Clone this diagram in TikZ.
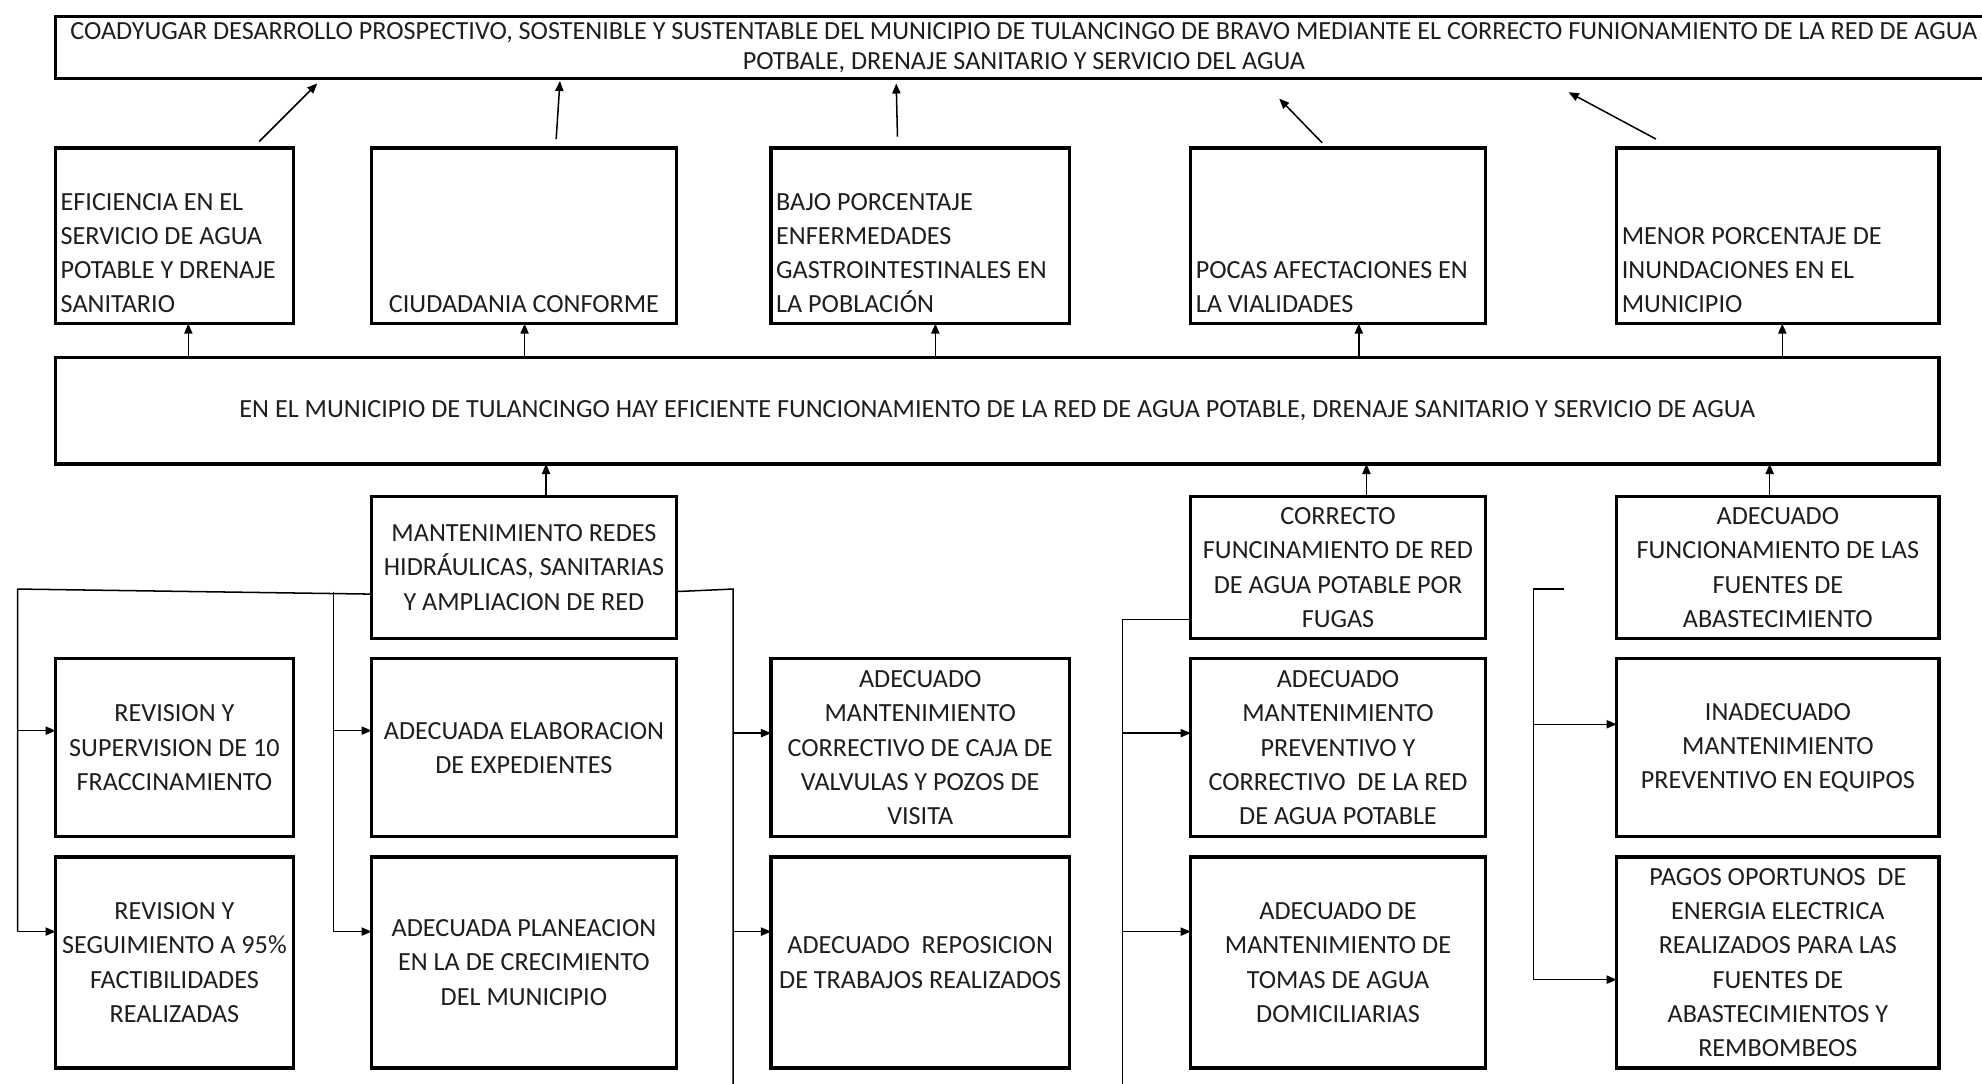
\documentclass[tikz,border=0pt]{standalone}
\usepackage{fontspec}
\setmainfont{Carlito}
\usetikzlibrary{arrows.meta,calc}
\definecolor{txtc}{HTML}{1E1E1E}
\newcommand{\fsz}{\fontsize{20.7}{27}\selectfont}
\tikzset{
  box/.style={draw, line width=2.6pt, inner sep=0pt, outer sep=0pt, align=center, text=txtc, font=\fsz},
  txt/.style={inner sep=0pt, outer sep=0pt, align=left, text=txtc, font=\fsz},
  conn/.style={line width=1.2pt},
  arr/.style={conn, -{Triangle[length=8pt,width=6.5pt]}}
}
\begin{document}
\begin{tikzpicture}[x=1pt,y=-1pt]
\fill[white] (0,0) rectangle (1568,857);
\useasboundingbox (0,0) rectangle (1568,857);

% top goal
\node[box, minimum width=1532, minimum height=49, font=\fontsize{20.7}{24}\selectfont] (top) at (810,37.5) {COADYUGAR DESARROLLO PROSPECTIVO, SOSTENIBLE Y SUSTENTABLE DEL MUNICIPIO DE TULANCINGO DE BRAVO MEDIANTE EL CORRECTO FUNIONAMIENTO DE LA RED DE AGUA\\POTBALE, DRENAJE SANITARIO Y SERVICIO DEL AGUA};

% row 2
\node[box, minimum width=188, minimum height=139] (b1) at (138,186.5) {};
\node[txt, anchor=south west] (b1t) at ([xshift=4pt,yshift=8.6pt]b1.south west) {EFICIENCIA EN EL\\SERVICIO DE AGUA\\POTABLE Y DRENAJE\\SANITARIO};
\node[box, minimum width=241, minimum height=139] (b2) at (414.5,186.5) {};
\node[txt, anchor=south] (b2t) at ([yshift=8.6pt]b2.south) {CIUDADANIA CONFORME};
\node[box, minimum width=236, minimum height=139] (b3) at (728,186.5) {};
\node[txt, anchor=south west] (b3t) at ([xshift=4pt,yshift=8.6pt]b3.south west) {BAJO PORCENTAJE\\ENFERMEDADES\\GASTROINTESTINALES EN\\LA POBLACIÓN};
\node[box, minimum width=233, minimum height=139] (b4) at (1058.5,186.5) {};
\node[txt, anchor=south west] (b4t) at ([xshift=4pt,yshift=8.6pt]b4.south west) {POCAS AFECTACIONES EN\\LA VIALIDADES};
\node[box, minimum width=255, minimum height=139] (b5) at (1406.5,186.5) {};
\node[txt, anchor=south west] (b5t) at ([xshift=4pt,yshift=8.6pt]b5.south west) {MENOR PORCENTAJE DE\\INUNDACIONES EN EL\\MUNICIPIO};

% middle purpose
\node[box, minimum width=1490, minimum height=84] (mid) at (789,325) {EN EL MUNICIPIO DE TULANCINGO HAY EFICIENTE FUNCIONAMIENTO DE LA RED DE AGUA POTABLE, DRENAJE SANITARIO Y SERVICIO DE AGUA};

% row 3
\node[box, minimum width=241, minimum height=112] (m1) at (414.5,449) {MANTENIMIENTO REDES\\HIDRÁULICAS, SANITARIAS\\Y AMPLIACION DE RED};
\node[box, minimum width=233, minimum height=112] (c1) at (1058.5,449) {CORRECTO\\FUNCINAMIENTO DE RED\\DE AGUA POTABLE POR\\FUGAS};
\node[box, minimum width=255, minimum height=112] (a1) at (1406.5,449) {ADECUADO\\FUNCIONAMIENTO DE LAS\\FUENTES DE\\ABASTECIMIENTO};

% row 4
\node[box, minimum width=188, minimum height=141] (r4a) at (138,591.5) {REVISION Y\\SUPERVISION DE 10\\FRACCINAMIENTO};
\node[box, minimum width=241, minimum height=141] (r4b) at (414.5,591.5) {ADECUADA ELABORACION\\DE EXPEDIENTES};
\node[box, minimum width=236, minimum height=141] (r4c) at (728,591.5) {ADECUADO\\MANTENIMIENTO\\CORRECTIVO DE CAJA DE\\VALVULAS Y POZOS DE\\VISITA};
\node[box, minimum width=233, minimum height=141] (r4d) at (1058.5,591.5) {ADECUADO\\MANTENIMIENTO\\PREVENTIVO Y\\CORRECTIVO\ \ DE LA RED\\DE AGUA POTABLE};
\node[box, minimum width=255, minimum height=141] (r4e) at (1406.5,591.5) {INADECUADO\\MANTENIMIENTO\\PREVENTIVO EN EQUIPOS};

% row 5
\node[box, minimum width=188, minimum height=167] (r5a) at (138,761.5) {REVISION Y\\SEGUIMIENTO A 95\%\\FACTIBILIDADES\\REALIZADAS};
\node[box, minimum width=241, minimum height=167] (r5b) at (414.5,761.5) {ADECUADA PLANEACION\\EN LA DE CRECIMIENTO\\DEL MUNICIPIO};
\node[box, minimum width=236, minimum height=167] (r5c) at (728,761.5) {ADECUADO\ \ REPOSICION\\DE TRABAJOS REALIZADOS};
\node[box, minimum width=233, minimum height=167] (r5d) at (1058.5,761.5) {ADECUADO DE\\MANTENIMIENTO DE\\TOMAS DE AGUA\\DOMICILIARIAS};
\node[box, minimum width=255, minimum height=167] (r5e) at (1406.5,761.5) {PAGOS OPORTUNOS\ \ DE\\ENERGIA ELECTRICA\\REALIZADOS PARA LAS\\FUENTES DE\\ABASTECIMIENTOS Y\\REMBOMBEOS};

% arrows row 2 -> top
\draw[arr] ([xshift=67pt,yshift=5pt]b1.north) -- ([xshift=-559pt,yshift=-4pt]top.south);
\draw[arr] ([xshift=25.5pt,yshift=7pt]b2.north) -- ([xshift=-367pt,yshift=-2pt]top.south);
\draw[arr] ([xshift=-18pt,yshift=9pt]b3.north) -- ([xshift=-101pt,yshift=-4pt]top.south);
\draw[arr] ([xshift=-12.5pt,yshift=4pt]b4.north) -- ([xshift=202pt,yshift=-16pt]top.south);
\draw[arr] ([xshift=-96.5pt,yshift=7pt]b5.north) -- ([xshift=431pt,yshift=-11pt]top.south);

% arrows mid -> row 2
\coordinate (u1) at ([xshift=11pt]b1.south);
\coordinate (u2) at ([xshift=0.5pt]b2.south);
\coordinate (u3) at ([xshift=12pt]b3.south);
\coordinate (u4) at ([xshift=16.5pt]b4.south);
\coordinate (u5) at ([xshift=3.5pt]b5.south);
\foreach \u in {u1,u2,u3,u4,u5} \draw[arr] (\u |- mid.north) -- (\u);

% arrows row 3 -> mid
\coordinate (v1) at ([xshift=17.5pt]m1.north);
\coordinate (v2) at ([xshift=22.5pt]c1.north);
\coordinate (v3) at ([xshift=-6.5pt]a1.north);
\foreach \v in {v1,v2,v3} \draw[arr] (\v) -- (\v |- mid.south);

% left tree from m1
\coordinate (j1) at ([yshift=-21pt]m1.west);
\coordinate (lt) at (14,466);
\coordinate (lt2) at (264,468);
\coordinate (p4a) at ([yshift=13.5pt]r4a.west);
\coordinate (p5a) at ([yshift=24.5pt]r5a.west);
\coordinate (p4b) at ([yshift=13.5pt]r4b.west);
\coordinate (p5b) at ([yshift=24.5pt]r5b.west);
\draw[conn] (j1) -- (lt) -- (lt |- p5a);
\draw[arr] (lt |- p4a) -- (p4a);
\draw[arr] (lt |- p5a) -- (p5a);
\draw[conn] (lt2) -- (lt2 |- p5b);
\draw[arr] (lt2 |- p4b) -- (p4b);
\draw[arr] (lt2 |- p5b) -- (p5b);

% right tree from m1
\coordinate (j2) at ([yshift=-19pt]m1.east);
\coordinate (rt) at (580,466);
\coordinate (rb) at (580,870);
\coordinate (p4c) at ([yshift=11.5pt]r4c.west);
\coordinate (p5c) at ([yshift=24.5pt]r5c.west);
\draw[conn] (j2) -- (rt) -- (rb);
\draw[arr] (rt |- p4c) -- (p4c);
\draw[arr] (rt |- p5c) -- (p5c);

% tree from c1
\coordinate (j3) at ([yshift=-41pt]c1.west);
\coordinate (cb) at (888,870);
\coordinate (p4d) at ([yshift=11.5pt]r4d.west);
\coordinate (p5d) at ([yshift=24.5pt]r5d.west);
\draw[conn] (j3) -- (j3 -| cb) -- (cb);
\draw[arr] (cb |- p4d) -- (p4d);
\draw[arr] (cb |- p5d) -- (p5d);

% right tree
\coordinate (s1) at (1237,466);
\coordinate (s2) at (1213,466);
\coordinate (p4e) at ([yshift=18.5pt]r4e.west);
\coordinate (p5e) at ([yshift=-13.5pt]r5e.west);
\draw[conn] (s1) -- (s2) -- (s2 |- p5e);
\draw[arr] (s2 |- p4e) -- (p4e);
\draw[arr] (s2 |- p5e) -- (p5e);
\end{tikzpicture}
\end{document}
